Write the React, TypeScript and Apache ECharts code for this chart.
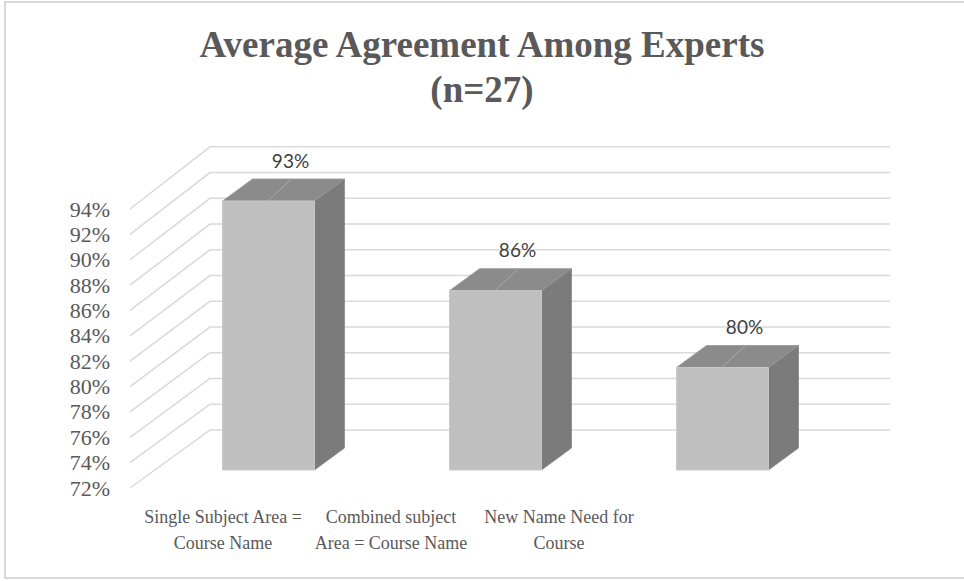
import React, { useEffect, useRef } from "react";
import * as echarts from "echarts";

const categories = ["Single Subject Area =\nCourse Name", "Combined subject\nArea = Course Name", "New Name Need for\nCourse"];
const values = [93, 86, 80];
const yTicks = [72, 74, 76, 78, 80, 82, 84, 86, 88, 90, 92, 94];
const titleText = "Average Agreement Among Experts\n(n=27)";

const SERIF = "'Liberation Serif', 'Times New Roman', serif";

export default function App() {
  const ref = useRef<HTMLDivElement>(null);
  useEffect(() => {
    if (!ref.current) return;
    const chart = echarts.init(ref.current, undefined, { renderer: "svg" });
    const option: any = {
      animation: false,
      backgroundColor: "#ffffff",
      title: {
        text: titleText,
        left: "center",
        top: 22,
        padding: 0,
        textStyle: {
          fontFamily: SERIF,
          fontWeight: "bold",
          fontSize: 37,
          lineHeight: 45,
          color: "#595959",
        },
      },
      graphic: [
        {
          type: "rect",
          shape: { x: 5, y: 2, width: 975, height: 576 },
          style: { fill: "none", stroke: "#d9d9d9", lineWidth: 2 },
          silent: true,
        },
      ],
      grid: [
        { left: 131, right: 152, top: 209, bottom: 93 },
        { left: 139, right: 321, top: 400, bottom: 81 },
      ],
      xAxis: [
        {
          type: "category",
          gridIndex: 0,
          data: categories,
          axisLine: { show: false },
          axisTick: { show: false },
          axisLabel: { show: false },
        },
        {
          type: "category",
          gridIndex: 1,
          data: categories,
          axisLine: { show: false },
          axisTick: { show: false },
          axisLabel: {
            margin: 4,
            fontFamily: SERIF,
            fontSize: 18,
            lineHeight: 26,
            color: "#595959",
            interval: 0,
          },
        },
      ],
      yAxis: [
        {
          type: "value",
          gridIndex: 0,
          min: 72,
          max: 94,
          interval: 2,
          axisLine: { show: false },
          axisTick: { show: false },
          splitLine: { show: false },
          axisLabel: {
            margin: 21,
            formatter: (v: number) => `${v}%`,
            fontFamily: SERIF,
            fontSize: 22,
            color: "#595959",
          },
        },
        {
          type: "value",
          gridIndex: 1,
          min: 0,
          max: 1,
          show: false,
        },
      ],
      series: [
        {
          type: "custom",
          xAxisIndex: 0,
          yAxisIndex: 0,
          silent: true,
          z: 1,
          data: yTicks.map((v) => [0, v]),
          renderItem: (params: any, api: any) => {
            const cs = params.coordSys;
            const v = api.value(1);
            const fy = api.coord([0, v])[1];
            const bottom = cs.y + cs.height;
            const by = bottom - 58 - (bottom - fy) * 1.015;
            return {
              type: "polyline",
              shape: {
                points: [
                  [cs.x - 1, fy],
                  [cs.x + 79, by],
                  [cs.x + cs.width + 78, by],
                ],
              },
              style: { fill: "none", stroke: "#d9d9d9", lineWidth: 1.5 },
            };
          },
        },
        {
          type: "custom",
          xAxisIndex: 0,
          yAxisIndex: 0,
          silent: true,
          z: 2,
          data: values.map((v, i) => [i, v]),
          renderItem: (params: any, api: any) => {
            const idx = api.value(0);
            const val = api.value(1);
            const c = api.coord([idx, val]);
            const base = api.coord([idx, 72]);
            const bw = api.size([1, 0])[0];
            const w = bw * 0.405;
            const cx = c[0] + 24;
            const fl = cx - w / 2;
            const fr = cx + w / 2;
            const fb = base[1] - 18;
            const ft = fb - (base[1] - c[1]) * 1.01;
            const dx = 30;
            const dy = -22;
            const label = `${val}%`;
            return {
              type: "group",
              children: [
                {
                  type: "polygon",
                  shape: { points: [[fr, ft], [fr + dx, ft + dy], [fr + dx, fb + dy], [fr, fb]] },
                  style: { fill: "#7b7b7b", stroke: "#858585", lineWidth: 0.8 },
                },
                {
                  type: "polygon",
                  shape: { points: [[fl, ft], [fr, ft], [fr + dx, ft + dy], [fl + dx, ft + dy]] },
                  style: { fill: "#8b8b8b", stroke: "#959595", lineWidth: 0.8 },
                },
                {
                  type: "rect",
                  shape: { x: fl, y: ft, width: w, height: fb - ft },
                  style: { fill: "#bfbfbf", stroke: "#c9c9c9", lineWidth: 1 },
                },
                {
                  type: "line",
                  shape: { x1: cx + dx - 7, y1: ft + dy, x2: cx - 1, y2: ft },
                  style: { stroke: "#a9a9a9", lineWidth: 1 },
                },
                {
                  type: "text",
                  style: {
                    text: label,
                    x: cx + dx - 8,
                    y: ft + dy - 19,
                    align: "center",
                    verticalAlign: "middle",
                    fontFamily: "Lato",
                    fontSize: 19,
                    fill: "#404040",
                  },
                },
              ],
            };
          },
        },
      ],
    };
    chart.setOption(option);
    return () => chart.dispose();
  }, []);
  return (
    <div
      ref={ref}
      style={{ position: "absolute", left: 0, top: 0, width: 964, height: 581 }}
    />
  );
}
